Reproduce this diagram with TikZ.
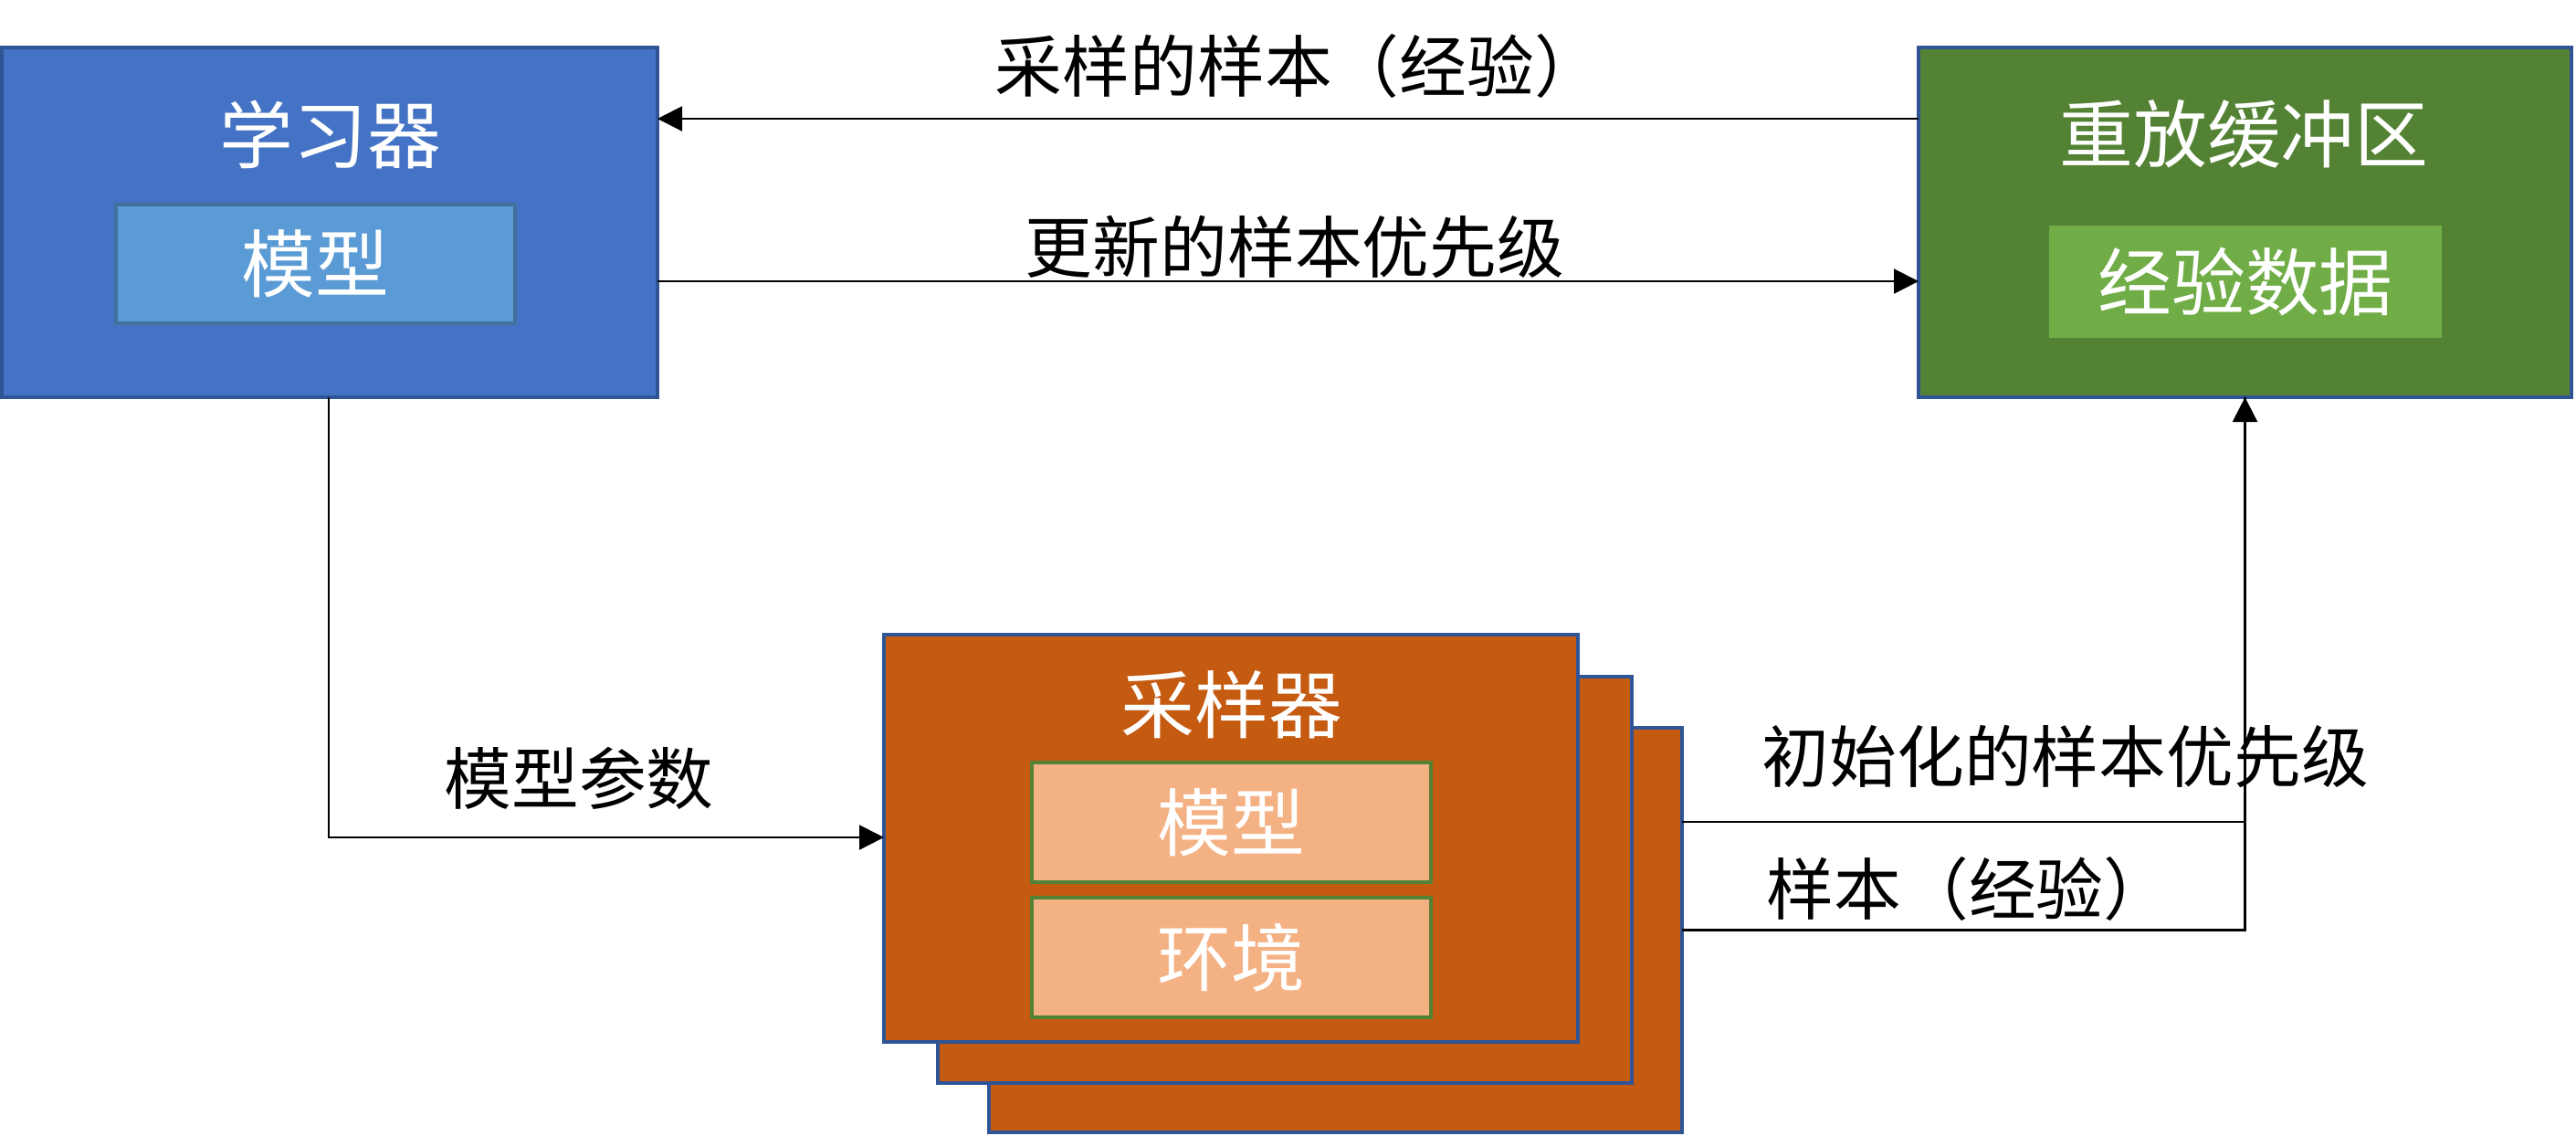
\documentclass[tikz,border=0pt]{standalone}
\usepackage{fontspec}
\setmainfont{Noto Sans CJK SC}
\usetikzlibrary{arrows.meta,calc}
\definecolor{lblue}{HTML}{4472C4}
\definecolor{lbord}{HTML}{2F5597}
\definecolor{mblue}{HTML}{5B9BD5}
\definecolor{mbord}{HTML}{41719C}
\definecolor{dgreen}{HTML}{548235}
\definecolor{lgreen}{HTML}{70AD47}
\definecolor{rust}{HTML}{C55A11}
\definecolor{peach}{HTML}{F4B183}
\tikzset{
  outerbox/.style={draw=lbord, line width=1.2pt, inner sep=0pt, outer sep=0pt},
  boxtext/.style={text=white, font=\fontsize{23}{27}\selectfont, inner sep=0pt},
  lbl/.style={text=black, font=\fontsize{21}{25}\selectfont, inner sep=0pt},
  arr/.style={draw=black, line width=0.6pt, -{Triangle[length=0.27cm,width=0.27cm]}},
  conn/.style={draw=black, line width=0.6pt},
}
\begin{document}
\begin{tikzpicture}
\useasboundingbox[fill=white] (0,0) rectangle (28.21,-12.43);
% learner
\node[outerbox, fill=lblue, minimum width=7.18cm, minimum height=3.83cm] (learner) at (3.61,-2.435) {};
\node[boxtext] (learnertitle) at (3.62,-1.47) {学习器};
\node[draw=mbord, line width=1.3pt, fill=mblue, minimum width=4.37cm, minimum height=1.30cm, boxtext] (lmodel) at (3.455,-2.89) {模型};
% replay buffer
\node[outerbox, fill=dgreen, minimum width=7.15cm, minimum height=3.83cm] (replay) at (24.585,-2.435) {};
\node[boxtext] (replaytitle) at (24.575,-1.47) {重放缓冲区};
\node[fill=lgreen, minimum width=4.30cm, minimum height=1.23cm, boxtext] (exp) at (24.59,-3.085) {经验数据};
% sampler stack
\node[outerbox, fill=rust, minimum width=7.59cm, minimum height=4.43cm] (back) at (14.625,-10.185) {};
\node[outerbox, fill=rust, minimum width=7.60cm, minimum height=4.45cm] (middle) at (14.07,-9.635) {};
\node[outerbox, fill=rust, minimum width=7.60cm, minimum height=4.46cm] (front) at (13.48,-9.18) {};
\node[boxtext] (samplertitle) at (13.49,-7.72) {采样器};
\node[draw=dgreen, line width=1.3pt, fill=peach, minimum width=4.37cm, minimum height=1.31cm, boxtext] (smodel) at (13.485,-9.005) {模型};
\node[draw=dgreen, line width=1.3pt, fill=peach, minimum width=4.37cm, minimum height=1.31cm, boxtext] (env) at (13.485,-10.485) {环境};
% connector rows
\coordinate (y1) at (0,-1.30);
\coordinate (y2) at (0,-3.08);
\coordinate (y3) at (3.60,-9.17);
\coordinate (y4) at (0,-9.00);
% arrows
\draw[arr] (replay.west |- y1) -- (learner.east |- y1);
\node[lbl] (l1) at (14.22,-0.72) {采样的样本（经验）};
\draw[arr] (learner.east |- y2) -- (replay.west |- y2);
\node[lbl] (l2) at (14.18,-2.70) {更新的样本优先级};
\draw[arr] (learner.south -| y3) -- (y3) -- (front.west |- y3);
\node[lbl] (l3) at (6.34,-8.52) {模型参数};
\draw[conn] (back.east |- y4) -| (replay.south);
\draw[arr] (back.east) -| (replay.south);
\node[lbl, anchor=west] (l4) at (19.29,-8.28) {初始化的样本优先级};
\node[lbl, anchor=west] (l5) at (19.34,-9.73) {样本（经验）};
\end{tikzpicture}
\end{document}
